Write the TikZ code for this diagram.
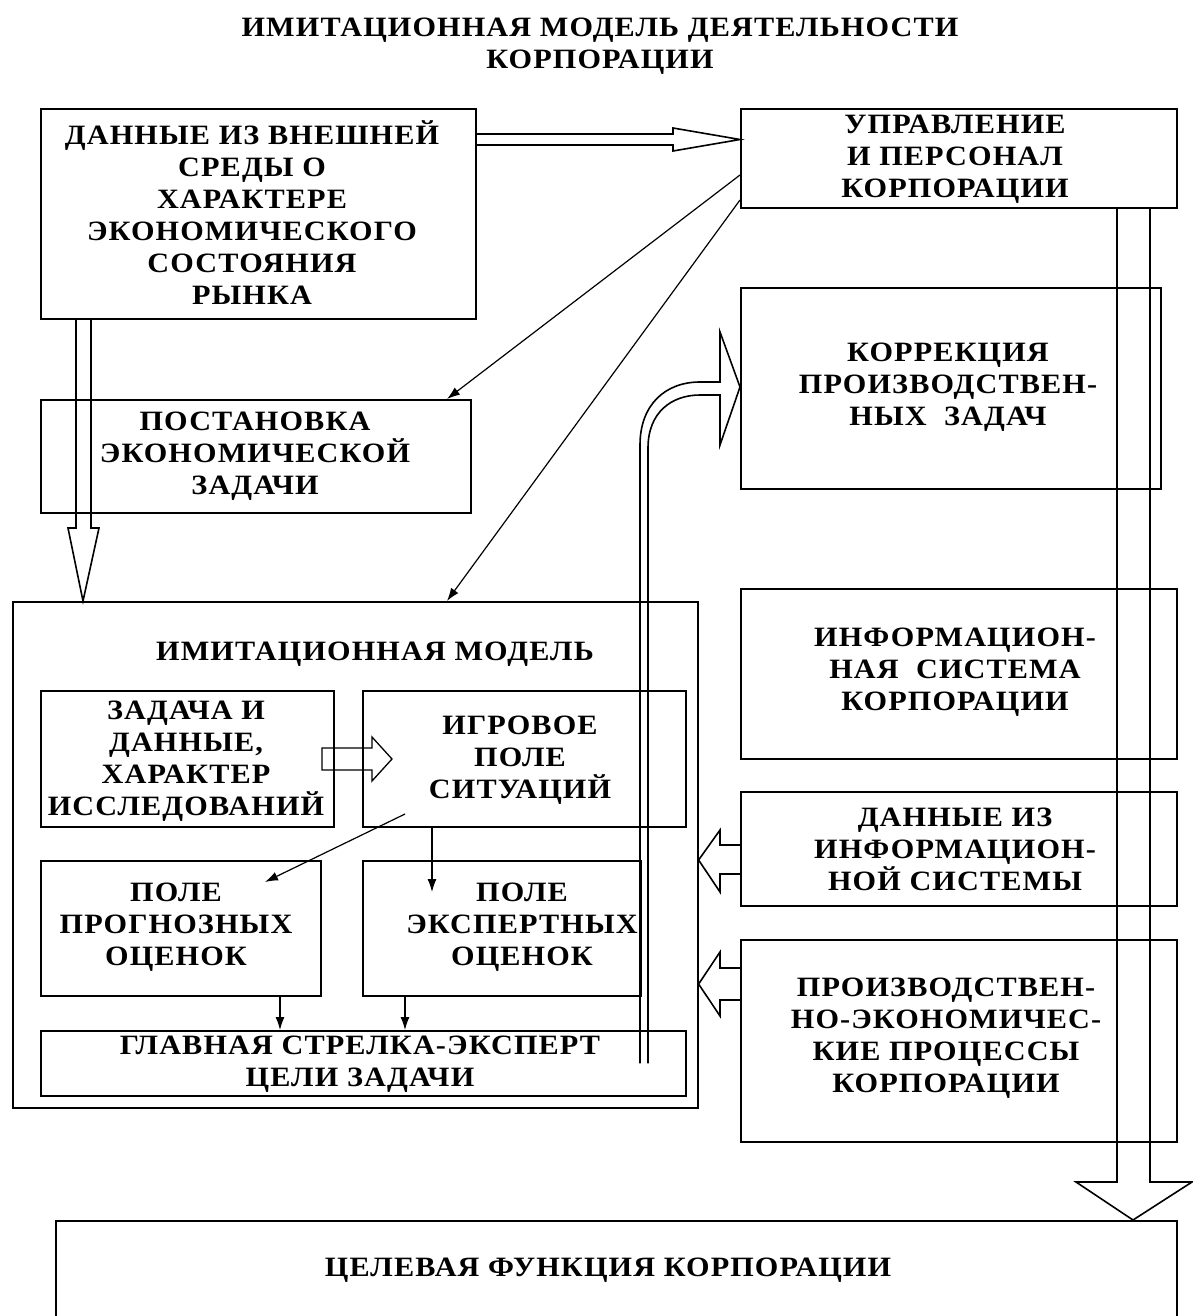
\documentclass[tikz,border=0pt]{standalone}
\usepackage{fontspec}
\setmainfont{Liberation Serif}[BoldFont={Liberation Serif Bold}, FakeStretch=1.08, LetterSpace=4]
\usetikzlibrary{calc,arrows.meta}
\tikzset{
  box/.style={draw, line width=1.6pt, anchor=north west, inner sep=0pt},
  lbl/.style={font=\bfseries\fontsize{28}{32}\selectfont, align=center, inner sep=0pt},
  hollow/.style={draw, line width=1.6pt, line join=miter},
  thin/.style={draw, line width=1.2pt, -{Latex[length=13pt,width=9pt]}}
}
\begin{document}
\begin{tikzpicture}[x=1pt,y=-1pt]
\useasboundingbox (0,0) rectangle (1192,1316);
% title
\node[lbl] (title) at (600,46) {ИМИТАЦИОННАЯ МОДЕЛЬ ДЕЯТЕЛЬНОСТИ\\КОРПОРАЦИИ};
% boxes
\node[box, minimum width=435pt, minimum height=210pt] (A) at (40,108) {};
\node[box, minimum width=436pt, minimum height=99pt] (B) at (740,108) {};
\node[box, minimum width=430pt, minimum height=113pt] (C) at (40,399) {};
\node[box, minimum width=420pt, minimum height=201pt] (D) at (740,287) {};
\node[box, minimum width=685pt, minimum height=506pt] (E) at (12,601) {};
\node[box, minimum width=293pt, minimum height=136pt] (T) at (40,690) {};
\node[box, minimum width=323pt, minimum height=136pt] (S) at (362,690) {};
\node[box, minimum width=280pt, minimum height=135pt] (P) at (40,860) {};
\node[box, minimum width=278pt, minimum height=135pt] (X) at (362,860) {};
\node[box, minimum width=645pt, minimum height=65pt] (M) at (40,1030) {};
\node[box, minimum width=436pt, minimum height=170pt] (F) at (740,588) {};
\node[box, minimum width=436pt, minimum height=114pt] (G) at (740,791) {};
\node[box, minimum width=436pt, minimum height=202pt] (H) at (740,939) {};
\node[box, minimum width=1121pt, minimum height=130pt] (I) at (55,1220) {};
% texts
\node[lbl] (tA) at (252,213) {ДАННЫЕ ИЗ ВНЕШНЕЙ\\СРЕДЫ О\\ХАРАКТЕРЕ\\ЭКОНОМИЧЕСКОГО\\СОСТОЯНИЯ\\РЫНКА};
\node[lbl] (tB) at (955,159) {УПРАВЛЕНИЕ\\И ПЕРСОНАЛ\\КОРПОРАЦИИ};
\node[lbl] (tC) at (255,456) {ПОСТАНОВКА\\ЭКОНОМИЧЕСКОЙ\\ЗАДАЧИ};
\node[lbl] (tD) at (948,387) {КОРРЕКЦИЯ\\ПРОИЗВОДСТВЕН-\\НЫХ\ \ ЗАДАЧ};
\node[lbl] (tE) at (375,654) {ИМИТАЦИОННАЯ МОДЕЛЬ};
\node[lbl] (tT) at (186,761) {ЗАДАЧА И\\ДАННЫЕ,\\ХАРАКТЕР\\ИССЛЕДОВАНИЙ};
\node[lbl] (tS) at (520,760) {ИГРОВОЕ\\ПОЛЕ\\СИТУАЦИЙ};
\node[lbl] (tP) at (176,927) {ПОЛЕ\\ПРОГНОЗНЫХ\\ОЦЕНОК};
\node[lbl] (tX) at (522,927) {ПОЛЕ\\ЭКСПЕРТНЫХ\\ОЦЕНОК};
\node[lbl] (tM) at (360,1064) {ГЛАВНАЯ СТРЕЛКА-ЭКСПЕРТ\\ЦЕЛИ ЗАДАЧИ};
\node[lbl] (tF) at (955,672) {ИНФОРМАЦИОН-\\НАЯ\ \ СИСТЕМА\\КОРПОРАЦИИ};
\node[lbl] (tG) at (955,849) {ДАННЫЕ ИЗ\\ИНФОРМАЦИОН-\\НОЙ СИСТЕМЫ};
\node[lbl] (tH) at (946,1038) {ПРОИЗВОДСТВЕН-\\НО-ЭКОНОМИЧЕС-\\КИЕ ПРОЦЕССЫ\\КОРПОРАЦИИ};
\node[lbl] (tI) at (608,1270) {ЦЕЛЕВАЯ ФУНКЦИЯ КОРПОРАЦИИ};
% hollow arrow A -> B
\draw[hollow] (A.east |- 0,134) -- (673,134) -- (673,128) -- (B.west |- 0,139.5) -- (673,151) -- (673,145) -- (A.east |- 0,145);
% hollow arrow A -> E
\draw[hollow] (76,0 |- A.south) -- (76,528) -- (68,528) -- (83,0 |- E.north) -- (99,528) -- (91,528) -- (91,0 |- A.south);
% big hollow arrow B -> I
\draw[hollow] (1117,0 |- B.south) -- (1117,1182) -- (1076,1182) -- (1133,0 |- I.north) -- (1192,1182) -- (1150,1182) -- (1150,0 |- B.south);
% curved hollow arrow M -> D
\draw[hollow] (640,0 |- M.center) -- (640,445) .. controls (640,405) and (665,382) .. (700,382) -- (720,382) -- (720,332) -- (D.west |- 0,387) -- (720,445) -- (720,395) -- (700,395) .. controls (672,395) and (648,412) .. (648,448) -- (648,0 |- M.center);
% hollow arrows G -> E, H -> E
\draw[hollow] (G.west |- 0,845) -- (720,845) -- (720,830) -- (E.east |- 0,860) -- (720,892) -- (720,874) -- (G.west |- 0,874);
\draw[hollow] (H.west |- 0,968) -- (720,968) -- (720,952) -- (E.east |- 0,984) -- (720,1016) -- (720,1000) -- (H.west |- 0,1000);
% inner hollow arrow T -> S
\draw[hollow, line width=1.3pt] (322,748) -- (372,748) -- (372,737) -- (392,759) -- (372,781) -- (372,770) -- (322,770) -- cycle;
% thin arrows
\draw[thin] (B.west |- 0,175) -- (447,0 |- C.north);
\draw[thin] (B.west |- 0,200) -- (447,0 |- E.north);
\draw[thin] (405,814) -- (265,882);
\draw[thin] (432,0 |- S.south) -- (432,892);
\draw[thin] (280,0 |- P.south) -- (280,0 |- M.north);
\draw[thin] (405,0 |- X.south) -- (405,0 |- M.north);
\end{tikzpicture}
\end{document}
